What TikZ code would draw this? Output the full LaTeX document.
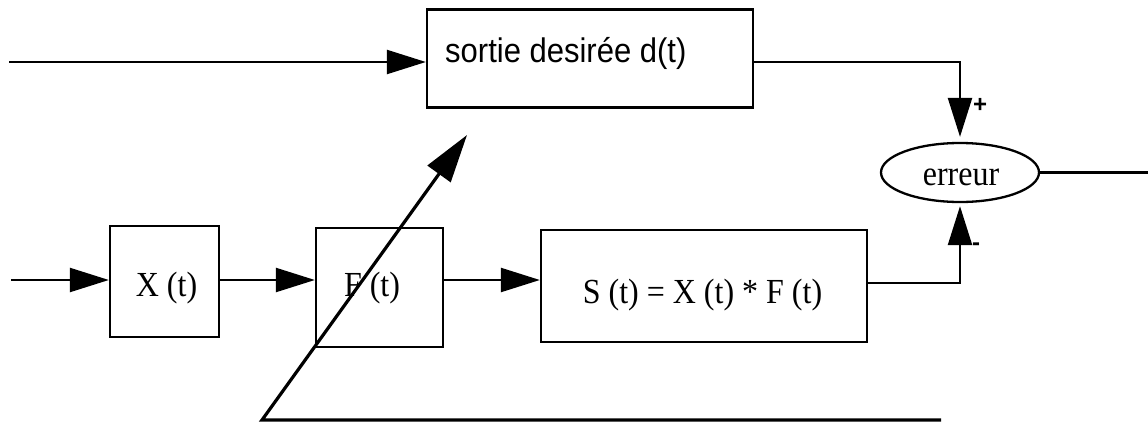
\documentclass[tikz,border=0pt]{standalone}
\usepackage{fontspec}
\setmainfont{Liberation Serif}
\newfontfamily\arialf{Liberation Sans}
\usetikzlibrary{arrows.meta,shapes.geometric}
\newcommand{\tallt}[1]{\scalebox{1}[1.1]{#1}}
\begin{document}
\begin{tikzpicture}[x=1pt,y=-1pt,
  box/.style={draw,line width=2.3pt,inner sep=0pt},
  ln/.style={line width=2.3pt},
  arr/.style={line width=2.3pt,-{Triangle[length=39pt,width=24pt]}},
  serif/.style={font=\fontsize{32}{36}\selectfont,inner sep=0pt},
  sans/.style={font=\arialf\fontsize{31}{36}\selectfont,inner sep=0pt},
  sign/.style={font=\arialf\bfseries\fontsize{24}{28}\selectfont,inner sep=0pt}]
\useasboundingbox (0,0) rectangle (1148,423);
% blocks
\node[box,minimum width=326pt,minimum height=98pt] (D) at (590,58.5) {};
\node[sans,anchor=base west] (Dt) at (445,62) {\tallt{sortie desirée d(t)}};
\node[box,minimum width=109pt,minimum height=111pt] (X) at (164.5,281.5) {};
\node[serif,anchor=base] (Xt) at (166.5,296) {\tallt{X (t)}};
\node[box,minimum width=127pt,minimum height=119pt] (F) at (379.5,287.5) {};
\node[serif,anchor=base] (Ft) at (372,296) {\tallt{F (t)}};
\node[box,minimum width=326pt,minimum height=112pt] (S) at (704,286) {};
\node[serif,anchor=base] (St) at (702.5,303) {\tallt{S (t) = X (t) * F (t)}};
\node[draw,ellipse,line width=2.3pt,inner sep=0pt,minimum width=158pt,minimum height=59pt] (E) at (960,172.5) {};
\node[serif,anchor=base] (Et) at (961,185) {\tallt{erreur}};
\node[sign] (plus) at (980,105) {+};
\node[sign] (minus) at (976,247) {-};
% coordinates
\coordinate (in0) at (9,62);
\coordinate (in1) at (11,280);
\coordinate (sy) at (0,283);
\coordinate (out) at (1148,173);
\coordinate (fb0) at (941,420);
\coordinate (fb1) at (262,420);
\coordinate (fbtip) at (467,135);
% connectors
\draw[arr] (in0) -- (in0 -| D.west);
\draw[arr,shorten >=5pt] (D.east |- in0) -| (E.north);
\draw[arr,shorten >=3pt] (S.east |- sy) -| (E.south);
\draw[ln] (E.east) -- (E.east -| out);
\draw[arr] (in1) -- (in1 -| X.west);
\draw[arr] (X.east |- in1) -- (in1 -| F.west);
\draw[arr] (F.east |- in1) -- (in1 -| S.west);
\draw[line width=3.2pt,line join=miter,-{Triangle[length=48pt,width=28pt]}] (fb0) -- (fb1) -- (fbtip);
\end{tikzpicture}
\end{document}
